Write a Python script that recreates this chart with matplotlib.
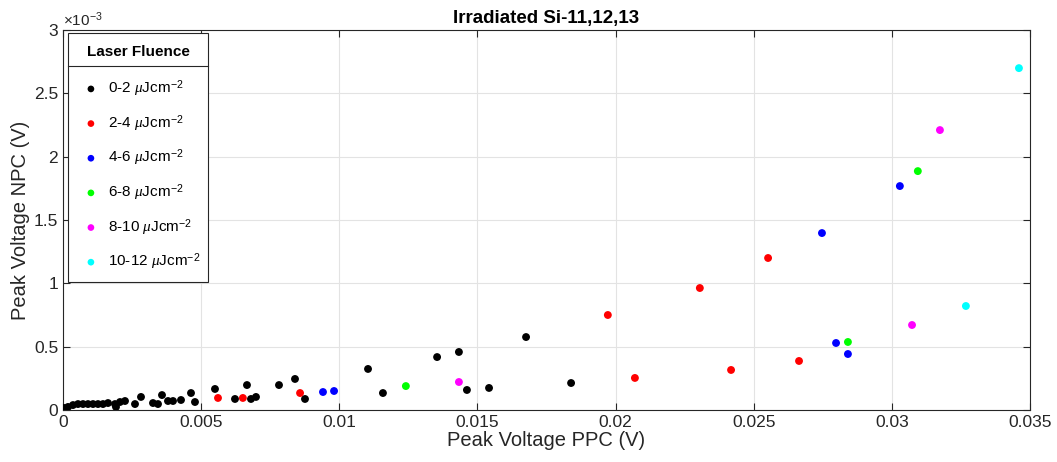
import matplotlib
matplotlib.use("Agg")
import matplotlib.pyplot as plt
from matplotlib.ticker import ScalarFormatter
from matplotlib.lines import Line2D
from matplotlib.offsetbox import DrawingArea

plt.rcParams['font.family'] = ['Liberation Sans', 'DejaVu Sans']
plt.rcParams['mathtext.fontset'] = 'custom'
plt.rcParams['mathtext.it'] = 'Liberation Serif:italic'
plt.rcParams['mathtext.rm'] = 'Liberation Sans'

# Data (x: PPC peak voltage [V], y: NPC peak voltage [V])
x_0_2 = [0.036e-3, 0.181e-3, 0.362e-3, 0.543e-3, 0.724e-3, 0.905e-3, 1.086e-3, 1.267e-3, 1.448e-3,
         1.629e-3, 1.882e-3, 1.918e-3, 2.063e-3, 2.244e-3, 2.606e-3, 2.823e-3, 3.257e-3, 3.438e-3,
         3.583e-3, 3.800e-3, 3.981e-3, 4.271e-3, 4.633e-3, 4.777e-3, 5.501e-3, 6.225e-3, 6.659e-3,
         6.804e-3, 6.985e-3, 7.818e-3, 8.397e-3, 8.759e-3, 11.04e-3, 11.58e-3, 13.54e-3, 14.33e-3,
         14.62e-3, 15.42e-3, 16.76e-3, 18.39e-3]
y_0_2 = [0.016e-3, 0.024e-3, 0.039e-3, 0.047e-3, 0.047e-3, 0.047e-3, 0.047e-3, 0.047e-3, 0.047e-3,
         0.055e-3, 0.047e-3, 0.024e-3, 0.063e-3, 0.071e-3, 0.047e-3, 0.103e-3, 0.055e-3, 0.047e-3,
         0.118e-3, 0.071e-3, 0.071e-3, 0.079e-3, 0.134e-3, 0.063e-3, 0.166e-3, 0.087e-3, 0.197e-3,
         0.087e-3, 0.103e-3, 0.197e-3, 0.245e-3, 0.087e-3, 0.324e-3, 0.134e-3, 0.418e-3, 0.458e-3,
         0.158e-3, 0.174e-3, 0.576e-3, 0.213e-3]
x_2_4 = [5.61e-3, 6.51e-3, 8.58e-3, 19.72e-3, 20.70e-3, 23.05e-3, 24.18e-3, 25.52e-3, 26.64e-3]
y_2_4 = [0.095e-3, 0.095e-3, 0.134e-3, 0.750e-3, 0.253e-3, 0.963e-3, 0.316e-3, 1.200e-3, 0.387e-3]
x_4_6 = [9.41e-3, 9.81e-3, 27.47e-3, 27.98e-3, 28.41e-3, 30.29e-3]
y_4_6 = [0.142e-3, 0.150e-3, 1.397e-3, 0.529e-3, 0.442e-3, 1.768e-3]
x_6_8 = [12.41e-3, 28.41e-3, 30.94e-3]
y_6_8 = [0.189e-3, 0.537e-3, 1.886e-3]
x_8_10 = [14.33e-3, 30.73e-3, 31.74e-3]
y_8_10 = [0.221e-3, 0.671e-3, 2.210e-3]
x_10_12 = [32.68e-3, 34.60e-3]
y_10_12 = [0.821e-3, 2.699e-3]

x_ticks = [0, 0.005, 0.01, 0.015, 0.02, 0.025, 0.03, 0.035]
x_tick_labels = ['0', '0.005', '0.01', '0.015', '0.02', '0.025', '0.03', '0.035']
y_ticks = [0, 0.0005, 0.001, 0.0015, 0.002, 0.0025, 0.003]

series = [
    (x_0_2, y_0_2, '#000000', r'0-2 $\mu$Jcm$^{-2}$'),
    (x_2_4, y_2_4, '#ff0000', r'2-4 $\mu$Jcm$^{-2}$'),
    (x_4_6, y_4_6, '#0000ff', r'4-6 $\mu$Jcm$^{-2}$'),
    (x_6_8, y_6_8, '#00ff00', r'6-8 $\mu$Jcm$^{-2}$'),
    (x_8_10, y_8_10, '#ff00ff', r'8-10 $\mu$Jcm$^{-2}$'),
    (x_10_12, y_10_12, '#00ffff', r'10-12 $\mu$Jcm$^{-2}$'),
]


class GFormatter(ScalarFormatter):
    def _set_format(self):
        self.format = '%g'


fig = plt.figure(figsize=(10.57, 4.62), dpi=100)
ax = fig.add_axes([63/1057, 52/462, (1030-63)/1057, (410-30)/462])

for xs, ys, c, lab in series:
    ax.scatter(xs, ys, s=32, color=c, edgecolors='none', label=lab, zorder=3)

ax.set_xlim(0, 0.035)
ax.set_ylim(0, 0.003)
ax.set_xticks(x_ticks)
ax.set_xticklabels(x_tick_labels)
fmt = GFormatter(useMathText=True)
fmt.set_powerlimits((-3, -3))
ax.yaxis.set_major_formatter(fmt)
ax.set_yticks(y_ticks)

ax.grid(True, color='#e3e3e3', linewidth=0.8, zorder=0)
ax.set_axisbelow(True)
ax.tick_params(direction='in', top=True, right=True, length=5, width=0.8,
               colors='#262626', labelsize=12.5, labelcolor='#262626')
for sp in ax.spines.values():
    sp.set_color('#262626')
    sp.set_linewidth(0.8)
ax.yaxis.get_offset_text().set_fontsize(11)
ax.yaxis.get_offset_text().set_color('#262626')

ax.set_xlabel('Peak Voltage PPC (V)', fontsize=14.5, color='#262626', labelpad=1)
ax.set_ylabel('Peak Voltage NPC (V)', fontsize=14.5, color='#262626', labelpad=3)
ax.set_title('Irradiated Si-11,12,13', fontsize=13.5, fontweight='bold', color='#000000', pad=5)

leg = ax.legend(loc='upper left', bbox_to_anchor=(5/967, 1 - 3/380), borderaxespad=0,
                title='Laser Fluence', title_fontproperties={'weight': 'bold', 'size': 11},
                fontsize=11, fancybox=False, framealpha=1, edgecolor='#262626',
                labelspacing=0.9, handletextpad=0.1, borderpad=0.45, handlelength=2.1,
                markerscale=0.85)
leg.get_frame().set_linewidth(0.8)
# custom vertical spacing inside the legend
lb = leg._legend_box
title_box, handle_box = lb._children[0], lb._children[1]
lb._children = [DrawingArea(1, 3.6), title_box, DrawingArea(1, 13.8), handle_box, DrawingArea(1, 2.1)]
lb.sep = 0

fig.canvas.draw()
fr = leg.get_frame().get_window_extent()
tb = leg.get_title().get_window_extent()
ysep = tb.y0 - 7
inv = fig.transFigure.inverted()
p0 = inv.transform((fr.x0, ysep))
p1 = inv.transform((fr.x1, ysep))
fig.add_artist(Line2D([p0[0], p1[0]], [p0[1], p1[1]], transform=fig.transFigure,
                      color='#262626', linewidth=0.8, zorder=10))

fig.savefig('out.png', dpi=100)
